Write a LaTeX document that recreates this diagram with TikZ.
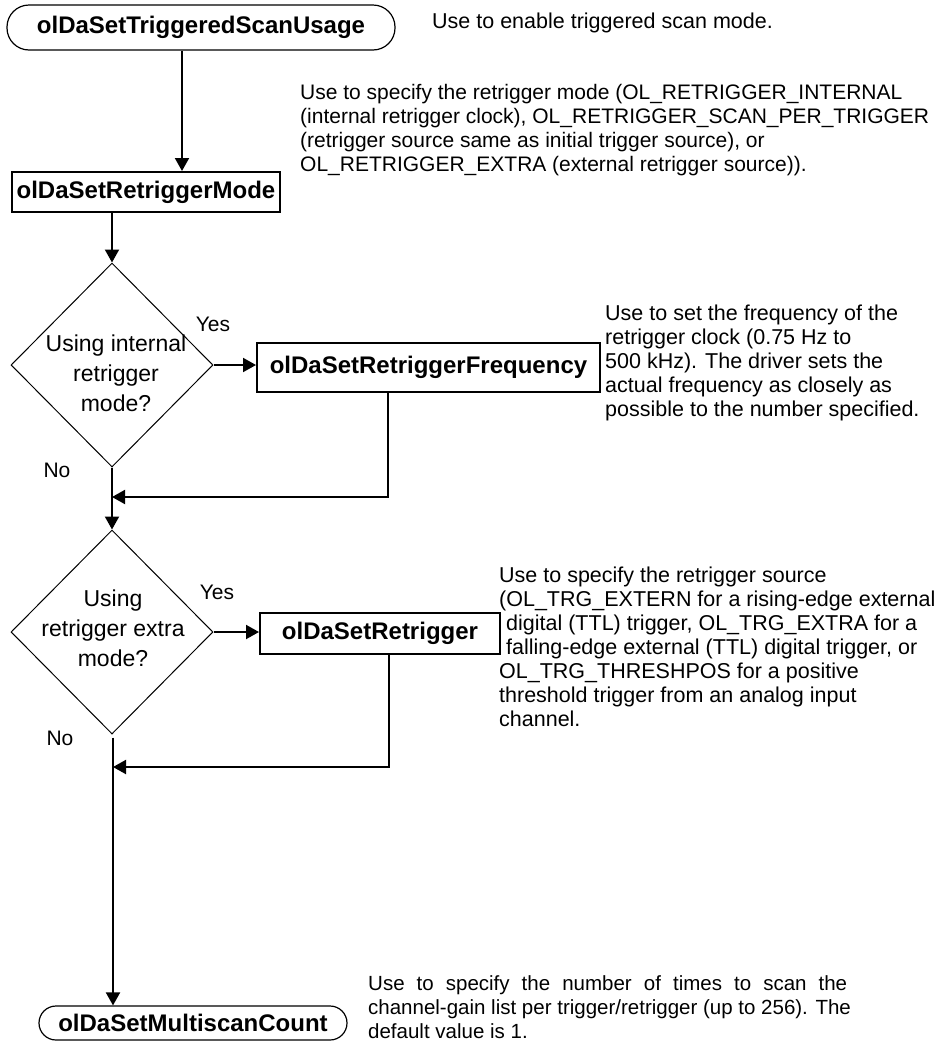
\documentclass[tikz,border=0pt]{standalone}
\usepackage{fontspec}
\setmainfont{Liberation Sans}
\usetikzlibrary{shapes.geometric,arrows.meta}
\begin{document}
\begin{tikzpicture}[x=1pt,y=-1pt,
  every node/.style={font=\fontsize{21}{24}\selectfont, inner sep=0pt},
  fn/.style={draw, line width=2pt, font=\fontsize{24}{28}\selectfont\bfseries},
  term/.style={draw, line width=1.2pt, font=\fontsize{24}{28}\selectfont\bfseries},
  dec/.style={diamond, draw, line width=1pt, minimum width=202pt, minimum height=204pt},
  qtext/.style={align=center, font=\fontsize{23}{30}\selectfont},
  note/.style={align=left, anchor=base west, font=\fontsize{21.5}{24}\selectfont},
  arr/.style={line width=2pt, -{Triangle[length=13pt,width=14pt]}}
]
\path[use as bounding box, fill=white] (0,0) rectangle (941,1042);

% process steps
\node[term, minimum width=388pt, minimum height=45pt, rounded corners=22pt] (start) at (201,27.5) {olDaSetTriggeredScanUsage};
\node[fn, minimum width=268pt, minimum height=40pt] (mode) at (146,192) {olDaSetRetriggerMode};
\node[dec] (d1) at (112,365) {};
\node[qtext] (q1) at (116,373) {Using internal\\retrigger\\mode?};
\node[fn, minimum width=343pt, minimum height=49pt] (freq) at (428.5,367) {olDaSetRetriggerFrequency};
\node[dec] (d2) at (112,632) {};
\node[qtext] (q2) at (113,628) {Using\\retrigger extra\\mode?};
\node[fn, minimum width=240pt, minimum height=41pt] (ret) at (380,633) {olDaSetRetrigger};
\node[term, minimum width=308pt, minimum height=34pt, rounded corners=17pt] (stop) at (193,1023) {olDaSetMultiscanCount};

% branch labels
\node (yes1) at (213,324) {Yes};
\node (no1) at (57,470) {No};
\node (yes2) at (217,592) {Yes};
\node (no2) at (60,738) {No};

% helper coordinates for connector routing
\coordinate (x182) at (182,0);
\coordinate (x388) at (388,0);
\coordinate (x389) at (389,0);
\coordinate (j1) at (112,497);
\coordinate (j2) at (113,767);

% connectors
\draw[arr] (start.south -| x182) -- (mode.north -| x182);
\draw[arr] (mode.south -| d1.north) -- (d1.north);
\draw[arr] (d1.east) -- (freq.west |- d1.east);
\draw[arr] (freq.south -| x388) |- (j1);
\draw[arr] (d1.south) -- (d2.north);
\draw[arr] (d2.east) -- (ret.west |- d2.east);
\draw[arr] (ret.south -| x389) |- (j2);
\draw[arr] ([yshift=-3pt]d2.south -| j2) -- (stop.north -| j2);

% descriptions (anchored at the baseline of their last line)
\node[note] (n0) at (432,28) {Use to enable triggered scan mode.};
\node[note, font=\fontsize{21}{24}\selectfont] (n1) at (300,171) {Use to specify the retrigger mode (OL\_RETRIGGER\_INTERNAL\\(internal retrigger clock), OL\_RETRIGGER\_SCAN\_PER\_TRIGGER\\(retrigger source same as initial trigger source), or\\OL\_RETRIGGER\_EXTRA (external retrigger source)).};
\node[note] (n2) at (605,416) {Use to set the frequency of the\\retrigger clock (0.75 Hz to\\500 kHz). The driver sets the\\actual frequency as closely as\\possible to the number specified.};
\node[note] (n3) at (499,726) {Use to specify the retrigger source\\(OL\_TRG\_EXTERN for a rising-edge external\\\hspace{7pt}digital (TTL) trigger, OL\_TRG\_EXTRA for a\\\hspace{7pt}falling-edge external (TTL) digital trigger, or\\OL\_TRG\_THRESHPOS for a positive\\threshold trigger from an analog input\\channel.};
\node[note, font=\fontsize{20.5}{24}\selectfont] (n4) at (368,1038) {\makebox[479pt][s]{Use to specify the number of times to scan the}\\channel-gain list per trigger/retrigger (up to 256). The\\default value is 1.};
\end{tikzpicture}
\end{document}
